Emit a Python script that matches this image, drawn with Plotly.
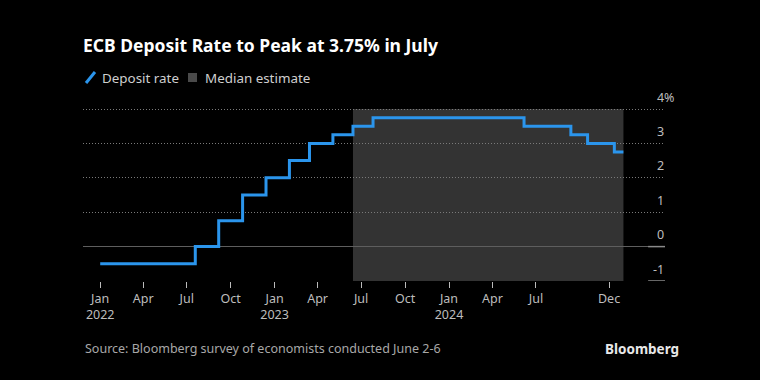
import plotly.graph_objects as go

# Deposit rate step series (date of change, rate)
dates = ["2022-01-01", "2022-07-19", "2022-09-06", "2022-10-26", "2022-12-14",
         "2023-02-01", "2023-03-15", "2023-05-03", "2023-06-14", "2023-07-26",
         "2024-06-06", "2024-09-12", "2024-10-17", "2024-12-12", "2024-12-31"]
rates = [-0.5, 0.0, 0.75, 1.5, 2.0, 2.5, 3.0, 3.25, 3.5, 3.75,
         3.5, 3.25, 3.0, 2.75, 2.75]

estimate_start = "2023-06-14"
estimate_end = "2024-12-31"

tick_dates = ["2022-01-01", "2022-04-01", "2022-07-01", "2022-10-01", "2023-01-01",
              "2023-04-01", "2023-07-01", "2023-10-01", "2024-01-01", "2024-04-01",
              "2024-07-01", "2024-12-01"]
tick_labels = ["Jan<br>2022", "Apr", "Jul", "Oct", "Jan<br>2023", "Apr", "Jul", "Oct",
               "Jan<br>2024", "Apr", "Jul", "Dec"]

y_vals = [-1, 0, 1, 2, 3, 4]
y_labels = ["-1", "0", "1", "2", "3", "4"]
y_unit = "%"

legend_labels = ["Deposit rate", "Median estimate"]

BLUE = "#2b95ec"
SHADE = "#333333"
FONT = "Noto Sans"
W, H = 760, 380
ML, MR, MT, MB = 83, 95, 108, 99
YMIN, YMAX = -1, 4.03

fig = go.Figure()
fig.add_trace(go.Scatter(x=dates, y=rates, mode="lines", line=dict(color=BLUE, width=3, shape="hv"),
                         showlegend=False, hoverinfo="skip"))

fig.add_shape(type="rect", xref="x", yref="y", x0=estimate_start, x1=estimate_end, y0=-1, y1=4,
              fillcolor=SHADE, line=dict(width=0), layer="below")
# short right-hand marks at 0 and -1
for v in [0, -1]:
    fig.add_shape(type="line", xref="paper", yref="y", x0=0.971, x1=1.0, y0=v, y1=v,
                  line=dict(color="#8a8a8a", width=1.5))


def px_x(p):
    return (p - ML) / (W - ML - MR)


def px_y(p):
    return (H - MB - p) / (H - MT - MB)


# custom legend: icons
fig.add_shape(type="line", xref="paper", yref="paper", x0=px_x(86), x1=px_x(95), y0=px_y(83), y1=px_y(72),
              line=dict(color=BLUE, width=3))
fig.add_shape(type="rect", xref="paper", yref="paper", x0=px_x(188), x1=px_x(197), y0=px_y(82), y1=px_y(73),
              fillcolor="#4a4a4a", line=dict(width=0))

annotations = [
    dict(text=legend_labels[0], x=px_x(100), y=px_y(77.5)),
    dict(text=legend_labels[1], x=px_x(203), y=px_y(77.5)),
]
annotations = [dict(a, xref="paper", yref="paper", xanchor="left", yanchor="middle", showarrow=False,
                    font=dict(size=13.4, color="#cfcfcf")) for a in annotations]
# y-axis labels sitting above their gridlines at the right end
for v, lab in zip(y_vals, y_labels):
    annotations.append(dict(text=lab, xref="paper", yref="y", x=1.0, y=v, xanchor="right",
                            yanchor="middle", yshift=12, xshift=1, showarrow=False,
                            font=dict(size=12.5, color="#bdbdbd")))
annotations.append(dict(text=y_unit, xref="paper", yref="y", x=1.0, y=y_vals[-1], xanchor="left",
                        yanchor="middle", yshift=12, xshift=-3, showarrow=False,
                        font=dict(size=12.5, color="#bdbdbd")))
annotations += [
    dict(text="Source: Bloomberg survey of economists conducted June 2-6", xref="paper", yref="paper",
         x=px_x(83), y=px_y(348), xanchor="left", yanchor="middle", showarrow=False,
         font=dict(size=12.5, color="#a8a8a8")),
    dict(text="<b>Bloomberg</b>", xref="paper", yref="paper", x=px_x(681), y=px_y(349),
         xanchor="right", yanchor="middle", showarrow=False,
         font=dict(size=13.5, color="#e8e8e8")),
]

fig.update_layout(
    width=W, height=H,
    paper_bgcolor="black", plot_bgcolor="black",
    margin=dict(l=ML, r=MR, t=MT, b=MB),
    font=dict(family=FONT, color="#bdbdbd", size=13),
    title=dict(text="<b>ECB Deposit Rate to Peak at 3.75% in July</b>", x=px_x(83), xref="paper",
               xanchor="left", y=1 - 46 / H, yanchor="middle", yref="container",
               font=dict(size=17.5, color="white", family=FONT)),
    showlegend=False,
    xaxis=dict(range=["2021-11-26", "2025-03-28"], tickvals=tick_dates, ticktext=tick_labels,
               showgrid=False, zeroline=False, showline=False, ticks="outside", ticklen=6,
               tickcolor="#bbbbbb", tickwidth=1, tickfont=dict(size=12.5, color="#bdbdbd")),
    yaxis=dict(range=[YMIN, YMAX], side="right", tickvals=y_vals[2:], showticklabels=False, ticks="",
               showgrid=True, gridcolor="#7a7a7a", griddash="1px,2px", gridwidth=1,
               zeroline=True, zerolinecolor="#5e5e5e", zerolinewidth=1.5,
               showline=False),
    annotations=annotations,
)

fig.write_html("out.html", config={"displayModeBar": False, "staticPlot": True},
               post_script="document.body.style.margin='0';document.body.style.background='black';")
